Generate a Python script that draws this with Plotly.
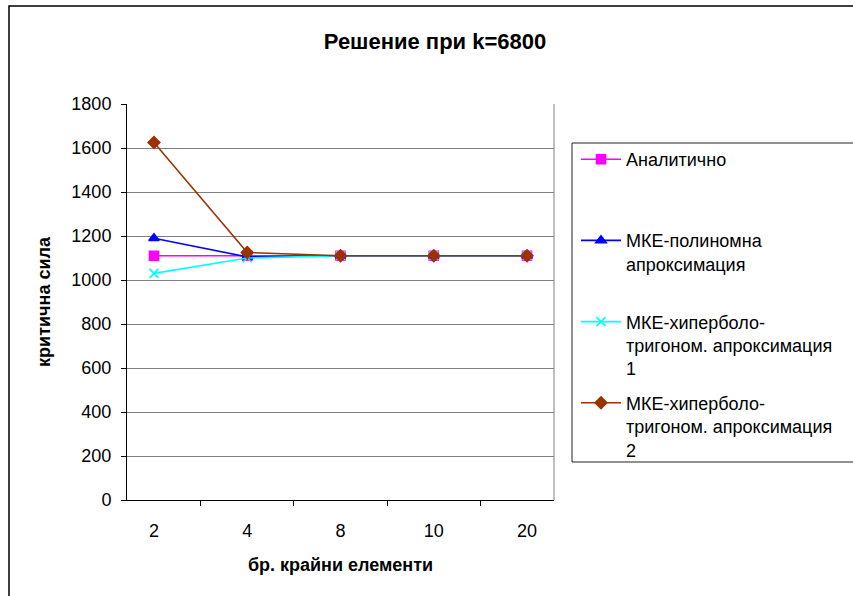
import plotly.graph_objects as go

categories = ["2", "4", "8", "10", "20"]
analytic = [1110, 1110, 1110, 1110, 1110]
fem_poly = [1190, 1105, 1110, 1110, 1110]
fem_hyp1 = [1030, 1100, 1110, 1110, 1110]
fem_hyp2 = [1625, 1125, 1110, 1110, 1110]

names = [
    "Аналитично<br> <br> ",
    "МКЕ-полиномна<br>апроксимация<br> ",
    "МКЕ-хиперболо-<br>тригоном. апроксимация<br>1",
    "МКЕ-хиперболо-<br>тригоном. апроксимация<br>2",
]
colors = ["#FF00FF", "#0000FF", "#00FFFF", "#993300"]
symbols = ["square", "triangle-up", "x-thin-open", "diamond"]
series = [analytic, fem_poly, fem_hyp1, fem_hyp2]

FONT = "Liberation Sans, Arial, sans-serif"

fig = go.Figure()
for i, (nm, col, sym, ys) in enumerate(zip(names, colors, symbols, series)):
    fig.add_trace(go.Scatter(
        x=categories, y=ys, name=nm, mode="lines+markers", legendgroup="g%d" % i,
        line=dict(color=col, width=1.6),
        marker=dict(color=col, symbol=sym, size=9,
                    line=dict(color=col, width=1.6)),
    ))

W, H = 853, 596
L, R, T, B = 127, 299, 104, 96
pw = W - L - R
ph = H - T - B

def px_x(p):
    return (p - L) / pw

def px_y(p):
    return (H - B - p) / ph

fig.update_layout(
    width=W, height=H,
    margin=dict(l=L, r=R, t=T, b=B, autoexpand=False),
    paper_bgcolor="white", plot_bgcolor="white",
    font=dict(family=FONT, size=18, color="black"),
    title=dict(text="<b>Решение при k=6800</b>", x=435 / W, xanchor="center",
               xref="container", y=1 - 41 / H, yanchor="middle",
               font=dict(size=22, family=FONT)),
    showlegend=True,
    legend=dict(
        x=px_x(576), y=px_y(141), xanchor="left", yanchor="top",
        borderwidth=0, bgcolor="rgba(0,0,0,0)",
        font=dict(size=18, family=FONT), valign="top",
        tracegroupgap=8, itemwidth=40,
    ),
    xaxis=dict(
        type="category", categoryorder="array", categoryarray=categories,
        showgrid=False, showline=True, linecolor="black", linewidth=1,
        ticks="outside", tickson="boundaries", ticklen=5, tickcolor="black",
        tickfont=dict(size=18, family=FONT), ticklabelstandoff=14,
        title=dict(text="<b>бр. крайни елементи</b>", font=dict(size=18, family=FONT), standoff=18),
        zeroline=False,
    ),
    yaxis=dict(
        range=[0, 1800], dtick=200, showgrid=True, gridcolor="#808080", gridwidth=1,
        showline=True, linecolor="black", linewidth=1,
        ticks="outside", ticklen=5, tickcolor="black",
        tickfont=dict(size=18, family=FONT), ticklabelstandoff=6,
        title=dict(text="<b>критична сила</b>", font=dict(size=18, family=FONT), standoff=16),
        zeroline=False,
    ),
)

# plot area right border
fig.add_shape(type="line", xref="paper", yref="paper", x0=1, x1=1, y0=0, y1=1,
              line=dict(color="#808080", width=1))
# legend frame (runs past the window's right edge, as in the reference)
fig.add_shape(type="rect", xref="paper", yref="paper",
              x0=px_x(572), x1=px_x(1000), y0=px_y(462), y1=px_y(143),
              line=dict(color="#202020", width=1), fillcolor="rgba(0,0,0,0)")
# outer chart border (extends past window at right/bottom)
fig.add_shape(type="rect", xref="paper", yref="paper",
              x0=px_x(9), x1=px_x(1100), y0=px_y(800), y1=px_y(6),
              line=dict(color="black", width=1.5), fillcolor="rgba(0,0,0,0)", layer="below")

fig.write_html("out.html")
